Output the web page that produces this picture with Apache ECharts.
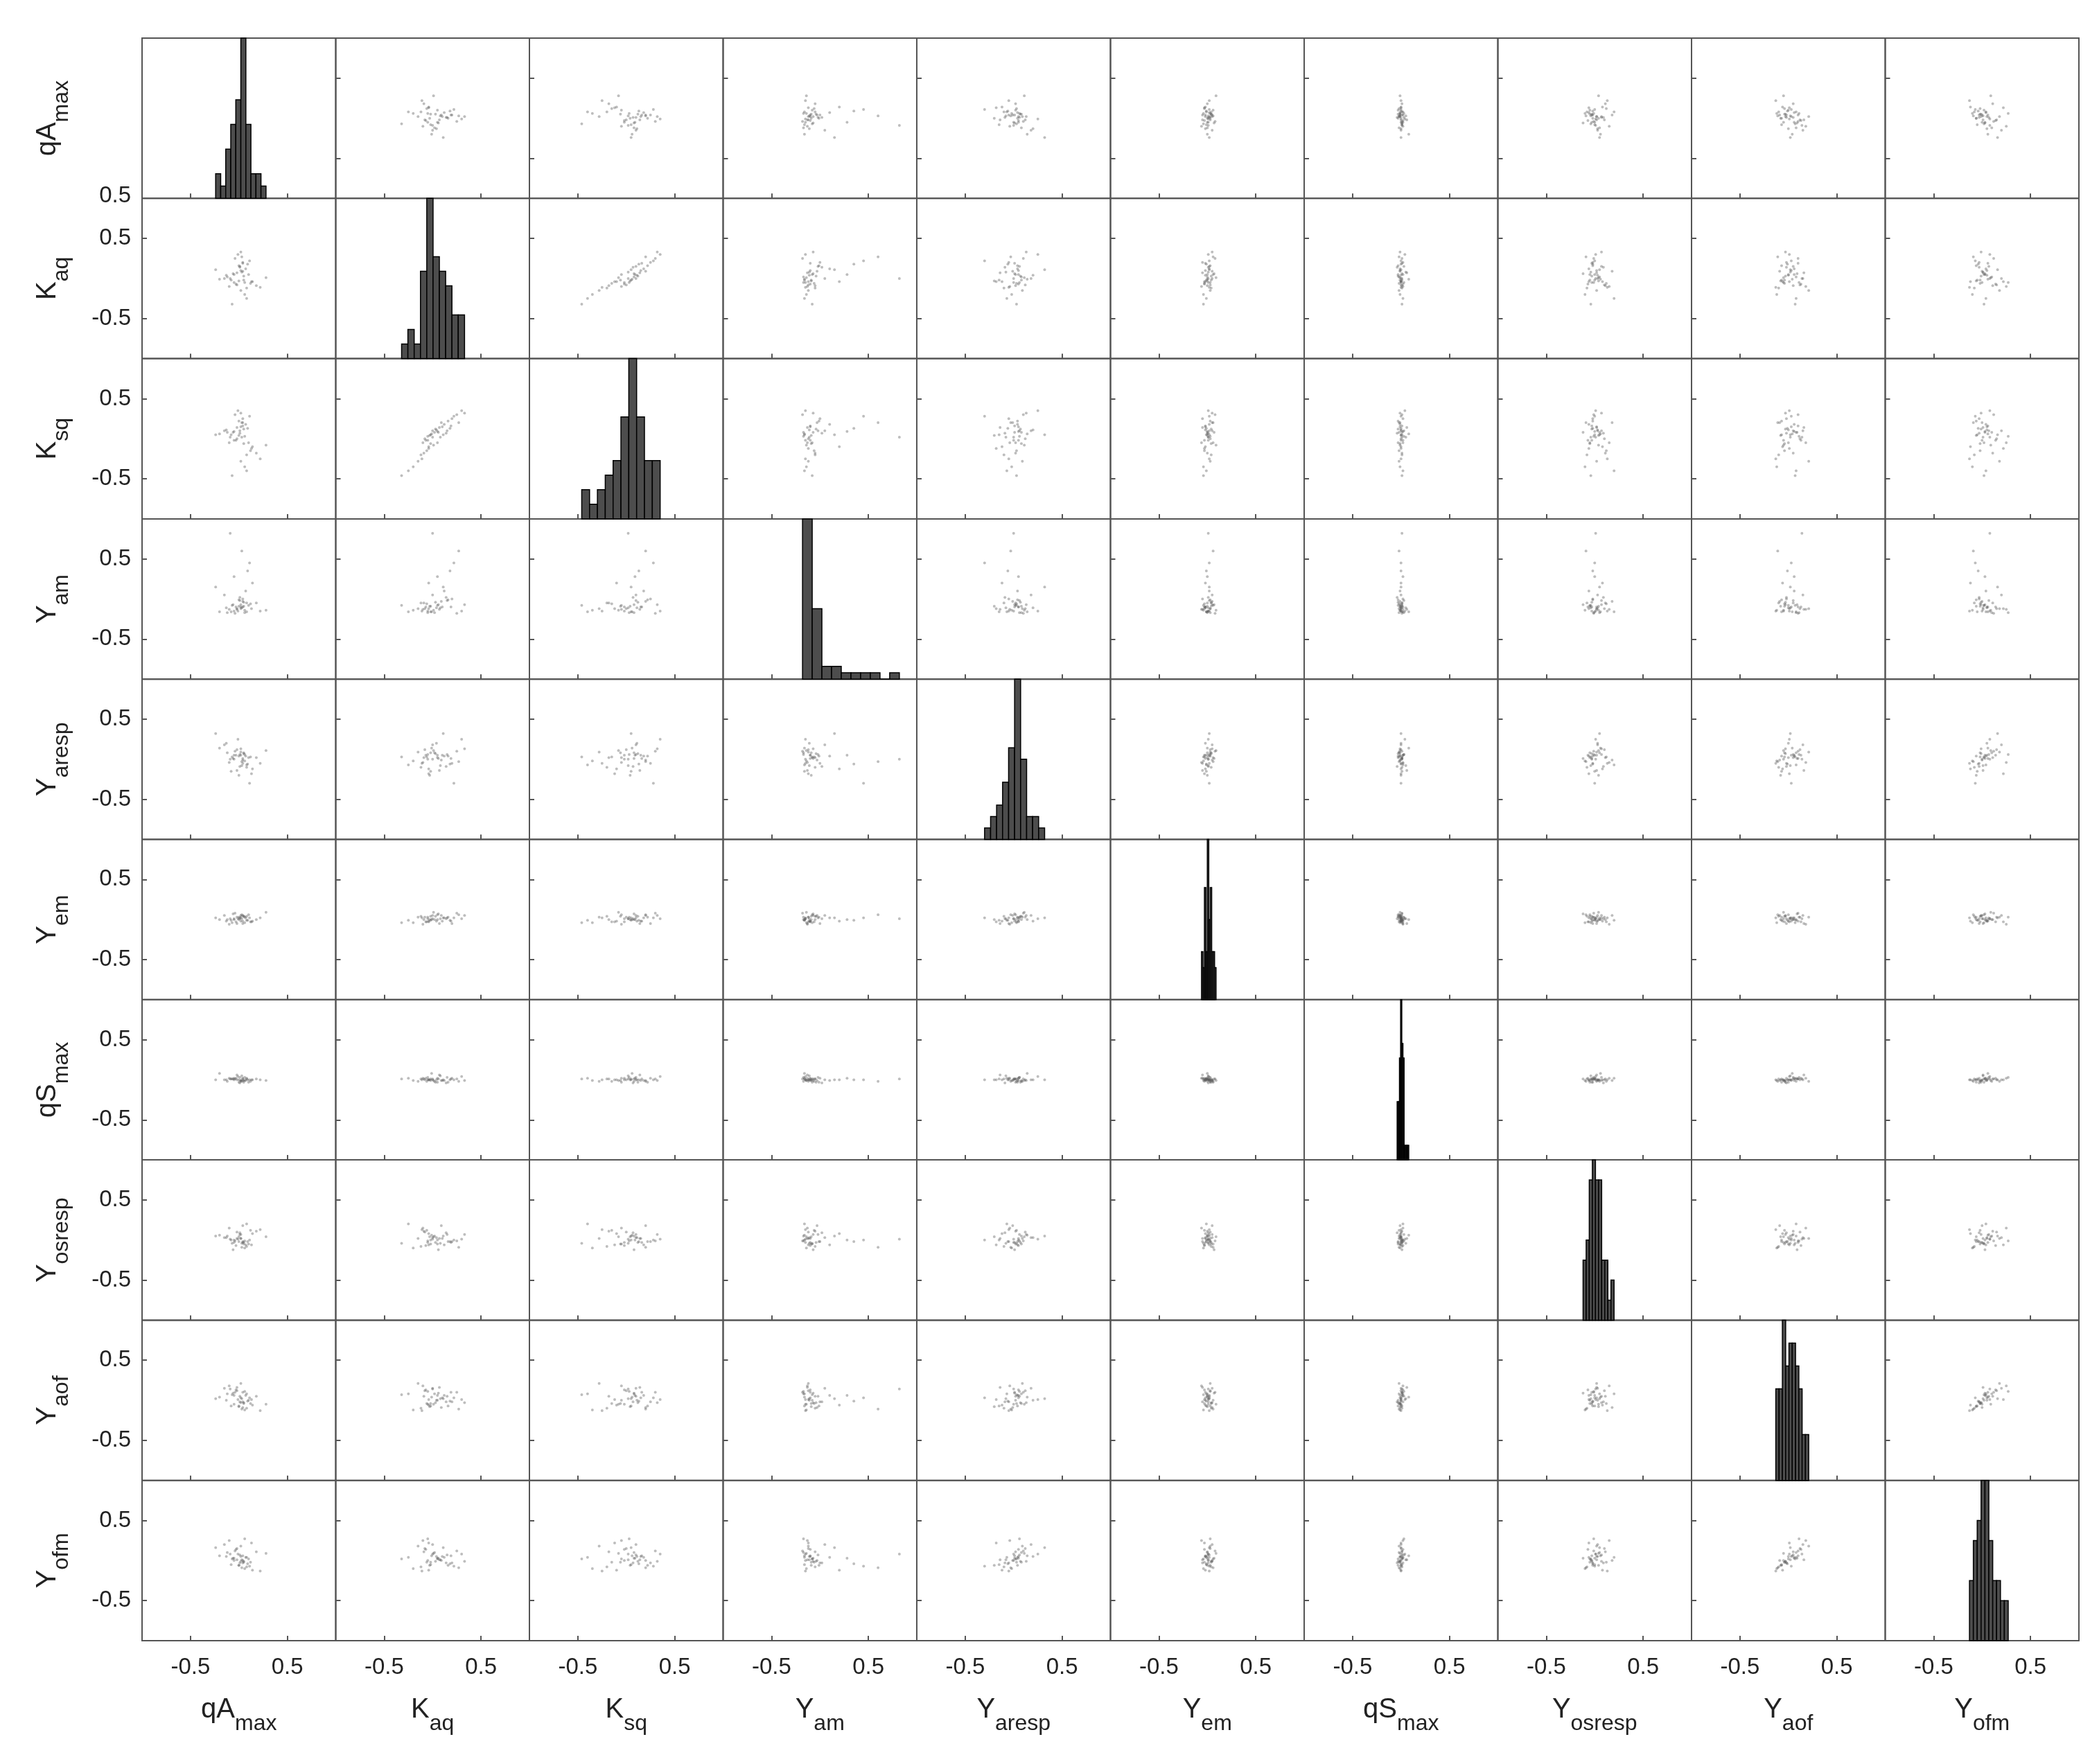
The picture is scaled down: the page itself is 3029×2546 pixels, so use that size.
<!DOCTYPE html>
<html>
<head>
<meta charset="utf-8">
<script src="https://cdn.jsdelivr.net/npm/echarts@6/dist/echarts.min.js"></script>
<style>
  html, body { margin: 0; padding: 0; background: #fff; }
  #chart { width: 3029px; height: 2546px; }
</style>
</head>
<body>
<div id="chart"></div>
<script>
// variable names: [main, subscript]
const varNames = [['qA', 'max'], ['K', 'aq'], ['K', 'sq'], ['Y', 'am'], ['Y', 'aresp'],
  ['Y', 'em'], ['qS', 'max'], ['Y', 'osresp'], ['Y', 'aof'], ['Y', 'ofm']]
const tickValues = [-0.5, 0.5]

// samples, one array per variable
const qAmax = [-0.05, 0.02, 0.08, -0.12, 0.04, -0.02, 0.10, -0.08, 0.01, 0.06, -0.15, 0.03, 0.12, -0.04, 0.00, 0.07, -0.10, 0.05, -0.01, 0.14, -0.06, 0.02, 0.09, -0.20, 0.04, -0.03, 0.11, 0.28, -0.07, 0.01, 0.06, -0.13, 0.03, 0.18, -0.02, 0.05, -0.24, 0.08, 0.00, -0.09, 0.13, 0.02, -0.05, 0.22, 0.04]
const Kaq = [-0.05, 0.10, -0.12, 0.02, 0.20, -0.08, 0.05, -0.02, 0.15, -0.20, 0.00, 0.08, -0.06, 0.25, -0.03, 0.12, -0.10, 0.03, 0.30, -0.04, 0.06, -0.15, 0.18, -0.01, 0.09, -0.07, 0.22, 0.01, -0.32, 0.14, -0.05, 0.04, 0.27, -0.09, 0.07, -0.02, 0.11, -0.25, 0.16, 0.00, -0.04, 0.33, 0.05, -0.11, 0.19]
const Ksq = [-0.02, 0.15, -0.20, 0.08, 0.25, 0.00, -0.05, 0.05, 0.10, -0.35, 0.10, 0.02, -0.15, 0.30, 0.04, 0.18, -0.05, 0.12, 0.35, -0.10, 0.08, -0.28, 0.13, 0.06, 0.20, -0.02, 0.28, -0.08, -0.46, 0.07, 0.03, 0.11, 0.20, -0.18, 0.14, -0.06, 0.05, -0.40, 0.22, 0.02, -0.12, 0.32, 0.09, -0.25, 0.16]
const Yam = [-0.15, -0.10, -0.05, -0.17, 0.00, -0.12, -0.08, -0.16, -0.02, -0.14, 0.05, -0.11, -0.06, -0.18, -0.09, 0.10, -0.13, -0.04, -0.15, 0.20, -0.07, -0.12, 0.35, -0.16, -0.03, -0.10, 0.45, -0.14, -0.08, 0.02, -0.17, -0.11, 0.60, -0.05, -0.13, -0.09, 0.15, -0.16, -0.01, 0.82, -0.12, -0.07, 0.28, -0.15, -0.10]
const Yaresp = [0.00, 0.05, -0.10, 0.08, -0.05, 0.12, 0.02, -0.15, 0.06, -0.02, 0.18, -0.08, 0.03, 0.10, -0.20, 0.04, -0.04, 0.07, 0.25, -0.12, 0.01, 0.09, -0.06, 0.14, -0.01, 0.05, -0.30, 0.11, 0.03, -0.09, 0.06, 0.20, -0.03, 0.02, -0.14, 0.08, 0.32, -0.07, 0.04, 0.00, -0.18, 0.13, 0.05, -0.05, 0.01]
const Yem = [0.01, -0.02, 0.04, 0.00, -0.05, 0.03, 0.06, -0.01, 0.02, -0.04, 0.05, 0.01, -0.03, 0.08, 0.00, 0.02, -0.06, 0.04, 0.01, -0.02, 0.07, 0.03, -0.01, 0.00, 0.05, -0.03, 0.02, 0.09, -0.04, 0.01, 0.03, -0.02, 0.06, 0.00, -0.05, 0.04, 0.02, -0.01, 0.03, 0.01, -0.03, 0.05, 0.00, 0.02, -0.02]
const qSmax = [0.00, -0.01, 0.01, -0.02, 0.02, 0.00, -0.03, 0.01, 0.03, -0.01, 0.00, 0.05, -0.02, 0.01, 0.00, -0.01, 0.02, -0.03, 0.04, 0.00, 0.01, -0.02, 0.00, 0.08, -0.01, 0.02, 0.00, -0.01, 0.01, -0.04, 0.03, 0.00, -0.02, 0.01, 0.06, -0.01, 0.00, 0.02, -0.03, 0.01, 0.00, -0.01, 0.02, 0.00, 0.01]
const Yosresp = [-0.03, 0.02, -0.08, 0.05, -0.02, 0.10, -0.05, 0.00, 0.07, -0.10, 0.03, -0.04, 0.12, -0.01, 0.04, -0.06, 0.15, -0.03, 0.01, 0.08, -0.12, 0.02, -0.02, 0.06, 0.18, -0.07, 0.00, 0.04, -0.04, 0.09, -0.01, 0.03, -0.09, 0.11, 0.02, -0.05, 0.05, 0.20, -0.02, 0.01, -0.06, 0.07, 0.00, 0.13, -0.03]
const Yaof = [-0.05, 0.03, -0.10, 0.08, -0.02, 0.12, 0.00, -0.07, 0.05, -0.12, 0.15, 0.02, -0.04, 0.10, -0.08, 0.06, 0.18, -0.03, 0.01, -0.06, 0.09, 0.21, -0.01, 0.04, -0.09, 0.13, 0.03, -0.05, 0.07, -0.02, 0.11, 0.00, -0.11, 0.05, 0.16, -0.04, 0.02, 0.08, -0.07, 0.14, 0.01, -0.03, 0.06, -0.13, 0.10]
const Yofm = [0.00, 0.05, -0.08, 0.10, -0.03, 0.15, 0.02, -0.05, 0.07, -0.10, 0.20, 0.01, -0.02, 0.12, -0.06, 0.04, 0.25, -0.01, 0.08, -0.12, 0.03, 0.18, -0.04, 0.06, 0.00, 0.14, -0.07, 0.09, 0.02, -0.03, 0.27, 0.05, -0.09, 0.11, 0.01, -0.02, 0.16, 0.04, -0.06, 0.08, 0.22, -0.01, 0.03, -0.13, 0.06]

const samples = [qAmax, Kaq, Ksq, Yam, Yaresp, Yem, qSmax, Yosresp, Yaof, Yofm]
const nBins = 10

const histogram = values => {
  const lo = Math.min(...values)
  const hi = Math.max(...values)
  const w = (hi - lo) / nBins
  const counts = new Array(nBins).fill(0)
  values.forEach(v => {
    counts[Math.min(nBins - 1, Math.floor((v - lo) / w))]++
  })
  return counts.map((c, i) => [lo + i * w, lo + (i + 1) * w, c])
}

const fontFamily = 'Liberation Sans, Arial, sans-serif'
const rich = {
  m: { fontSize: 40, fontFamily, color: '#222', lineHeight: 56, verticalAlign: 'top' },
  s: { fontSize: 32, fontFamily, color: '#222', lineHeight: 56, verticalAlign: 'bottom', padding: [16, 0, 0, 0] }
}
const nameText = n => `{m|${n[0]}}{s|${n[1]}}`

const N = samples.length
const gLeft = 205, gTop = 55, cellW = 279.5, cellH = 231.3
const grid = [], xAxis = [], yAxis = [], series = []
const tickStyle = { show: true, inside: true, length: 7, customValues: tickValues, lineStyle: { color: '#555', width: 2 } }

for (let r = 0; r < N; r++) {
  for (let c = 0; c < N; c++) {
    const idx = r * N + c
    const diag = r === c
    grid.push({
      left: gLeft + c * cellW, top: gTop + r * cellH, width: cellW, height: cellH,
      show: true, borderColor: '#555', borderWidth: 2, containLabel: false
    })
    const hist = diag ? histogram(samples[c]) : null
    xAxis.push({
      type: 'value', gridIndex: idx, min: -1, max: 1,
      axisLine: { show: false, onZero: false }, splitLine: { show: false },
      axisTick: tickStyle,
      axisLabel: {
        show: r === N - 1, customValues: tickValues, fontSize: 33, fontFamily, color: '#222', margin: 22,
        formatter: v => String(v)
      },
      name: r === N - 1 ? nameText(varNames[c]) : '',
      nameLocation: 'middle', nameGap: 80, nameTextStyle: { rich }
    })
    yAxis.push(diag ? {
      type: 'value', gridIndex: idx, min: 0, max: Math.max(...hist.map(h => h[2])),
      show: true, axisLine: { show: false, onZero: false }, splitLine: { show: false },
      axisTick: { show: false }, axisLabel: { show: false },
      name: c === 0 ? nameText(varNames[r]) : '',
      nameLocation: 'middle', nameGap: 100, nameRotate: 90, nameTextStyle: { rich }
    } : {
      type: 'value', gridIndex: idx, min: -1, max: 1,
      axisLine: { show: false, onZero: false }, splitLine: { show: false },
      axisTick: tickStyle,
      axisLabel: {
        show: c === 0, customValues: tickValues, fontSize: 33, fontFamily, color: '#222', margin: 16,
        formatter: v => String(v)
      },
      name: c === 0 ? nameText(varNames[r]) : '',
      nameLocation: 'middle', nameGap: 100, nameRotate: 90, nameTextStyle: { rich }
    })
    if (diag) {
      series.push({
        type: 'custom', xAxisIndex: idx, yAxisIndex: idx,
        data: hist, encode: { x: [0, 1], y: 2 },
        renderItem: (params, api) => {
          const p0 = api.coord([api.value(0), api.value(2)])
          const p1 = api.coord([api.value(1), 0])
          return {
            type: 'rect',
            shape: { x: p0[0], y: p0[1], width: p1[0] - p0[0], height: p1[1] - p0[1] },
            style: { fill: '#4d4d4d', stroke: '#000', lineWidth: 1.5 }
          }
        }
      })
    } else {
      series.push({
        type: 'scatter', xAxisIndex: idx, yAxisIndex: idx,
        symbolSize: 4, silent: true,
        itemStyle: { color: 'rgba(90,90,90,0.5)' },
        data: samples[c].map((v, k) => [v, samples[r][k]])
      })
    }
  }
}

const chart = echarts.init(document.getElementById('chart'))
chart.setOption({
  animation: false,
  backgroundColor: '#fff',
  grid, xAxis, yAxis, series,
  graphic: [{
    type: 'text', right: 3029 - gLeft + 16, top: gTop + cellH - 20,
    style: { text: '0.5', fontSize: 33, fontFamily, fill: '#222' }
  }]
})
</script>
</body>
</html>
